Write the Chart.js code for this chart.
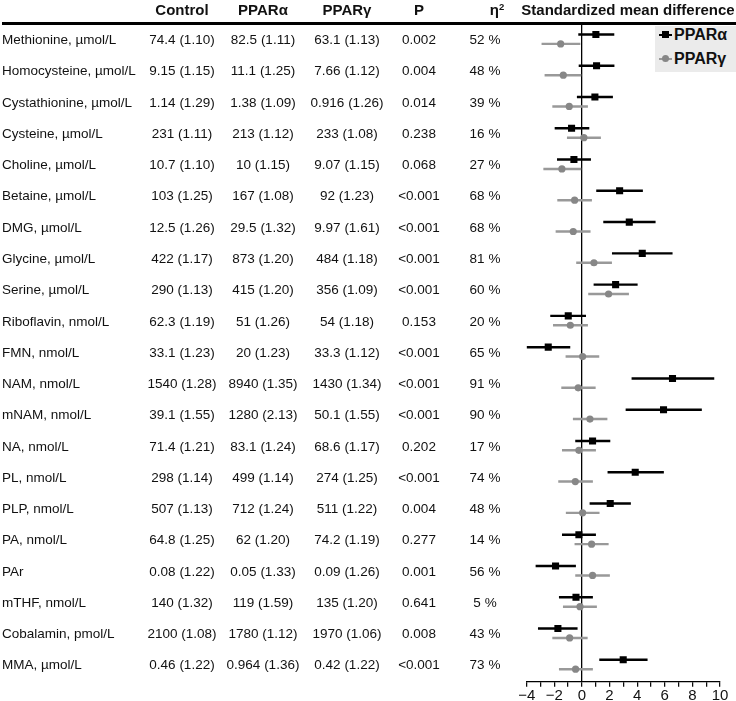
<!DOCTYPE html>
<html>
<head>
<meta charset="utf-8">
<script src="https://cdn.jsdelivr.net/npm/chart.js@4.4.0/dist/chart.umd.min.js"></script>
<style>
  body { margin: 0; background: #fff; font-family: "Liberation Sans", Arial, sans-serif; color: #111; }
  #wrap { position: relative; width: 736px; height: 701px; overflow: hidden; }
  #chart { position: absolute; left: 0; top: 0; }
  .t { position: absolute; white-space: nowrap; font-size: 13.5px; line-height: 16px; transform: translateY(-50%); }
  .c { transform: translate(-50%, -50%); }
  .h { font-weight: bold; font-size: 15px; }
  .h sup { font-size: 9.5px; vertical-align: 5px; line-height: 0; }
  #rule { position: absolute; left: 2px; top: 22px; width: 734px; height: 3px; background: #000; }
  #legend { position: absolute; left: 655px; top: 26px; width: 81px; height: 46px; background: #ebebeb; }
  .lg { position: absolute; left: 4px; width: 13px; height: 2px; }
  .lgm { position: absolute; }
  .lgt { position: absolute; left: 19px; font-weight: bold; font-size: 16px; line-height: 18px; transform: translateY(-50%); }
</style>
</head>
<body>
<div id="wrap">
  <canvas id="chart" width="736" height="701"></canvas>
  <div id="rule"></div>
  <div id="legend">
    <div class="lg" style="top:8px;background:#000"></div>
    <div class="lgm" style="left:7px;top:5px;width:7px;height:7px;background:#000"></div>
    <div class="lgt" style="top:9px">PPARα</div>
    <div class="lg" style="top:32px;background:#999"></div>
    <div class="lgm" style="left:7px;top:29px;width:7px;height:7px;border-radius:50%;background:#878787"></div>
    <div class="lgt" style="top:33px">PPARγ</div>
  </div>
</div>
<script>
// Tabla y valores
const metabolites = ['Methionine, µmol/L', 'Homocysteine, µmol/L', 'Cystathionine, µmol/L', 'Cysteine, µmol/L',
  'Choline, µmol/L', 'Betaine, µmol/L', 'DMG, µmol/L', 'Glycine, µmol/L', 'Serine, µmol/L', 'Riboflavin, nmol/L',
  'FMN, nmol/L', 'NAM, nmol/L', 'mNAM, nmol/L', 'NA, nmol/L', 'PL, nmol/L', 'PLP, nmol/L', 'PA, nmol/L', 'PAr',
  'mTHF, nmol/L', 'Cobalamin, pmol/L', 'MMA, µmol/L'];
const controlTxt = ['74.4 (1.10)', '9.15 (1.15)', '1.14 (1.29)', '231 (1.11)', '10.7 (1.10)', '103 (1.25)', '12.5 (1.26)',
  '422 (1.17)', '290 (1.13)', '62.3 (1.19)', '33.1 (1.23)', '1540 (1.28)', '39.1 (1.55)', '71.4 (1.21)', '298 (1.14)',
  '507 (1.13)', '64.8 (1.25)', '0.08 (1.22)', '140 (1.32)', '2100 (1.08)', '0.46 (1.22)'];
const alphaTxt = ['82.5 (1.11)', '11.1 (1.25)', '1.38 (1.09)', '213 (1.12)', '10 (1.15)', '167 (1.08)', '29.5 (1.32)',
  '873 (1.20)', '415 (1.20)', '51 (1.26)', '20 (1.23)', '8940 (1.35)', '1280 (2.13)', '83.1 (1.24)', '499 (1.14)',
  '712 (1.24)', '62 (1.20)', '0.05 (1.33)', '119 (1.59)', '1780 (1.12)', '0.964 (1.36)'];
const gammaTxt = ['63.1 (1.13)', '7.66 (1.12)', '0.916 (1.26)', '233 (1.08)', '9.07 (1.15)', '92 (1.23)', '9.97 (1.61)',
  '484 (1.18)', '356 (1.09)', '54 (1.18)', '33.3 (1.12)', '1430 (1.34)', '50.1 (1.55)', '68.6 (1.17)', '274 (1.25)',
  '511 (1.22)', '74.2 (1.19)', '0.09 (1.26)', '135 (1.20)', '1970 (1.06)', '0.42 (1.22)'];
const pTxt = ['0.002', '0.004', '0.014', '0.238', '0.068', '<0.001', '<0.001', '<0.001', '<0.001', '0.153', '<0.001',
  '<0.001', '<0.001', '0.202', '<0.001', '0.004', '0.277', '0.001', '0.641', '0.008', '<0.001'];
const etaTxt = ['52 %', '48 %', '39 %', '16 %', '27 %', '68 %', '68 %', '81 %', '60 %', '20 %', '65 %', '91 %', '90 %',
  '17 %', '74 %', '48 %', '14 %', '56 %', '5 %', '43 %', '73 %'];

// Standardized mean difference (estimate, CI low, CI high)
const alphaSmd = [1.01, 1.06, 0.94, -0.75, -0.58, 2.73, 3.43, 4.37, 2.44, -0.99, -2.44, 6.56, 5.91, 0.77, 3.86, 2.05, -0.22, -1.91, -0.43, -1.74, 2.99];
const alphaLo = [-0.24, -0.21, -0.34, -1.95, -1.78, 1.06, 1.57, 2.20, 0.87, -2.27, -4.00, 3.62, 3.19, -0.46, 1.88, 0.58, -1.42, -3.33, -1.64, -3.16, 1.28];
const alphaHi = [2.32, 2.33, 2.22, 0.51, 0.63, 4.39, 5.31, 6.54, 4.01, 0.27, -0.87, 9.56, 8.66, 2.03, 5.91, 3.52, 0.99, -0.46, 0.77, -0.34, 4.73];
const gammaSmd = [-1.54, -1.35, -0.92, 0.14, -1.45, -0.53, -0.63, 0.87, 1.93, -0.84, 0.05, -0.27, 0.58, -0.22, -0.48, 0.05, 0.70, 0.77, -0.14, -0.89, -0.46];
const gammaLo = [-2.90, -2.68, -2.12, -1.06, -2.77, -1.76, -1.88, -0.39, 0.48, -2.07, -1.16, -1.47, -0.63, -1.42, -1.69, -1.14, -0.51, -0.46, -1.35, -2.12, -1.64];
const gammaHi = [-0.14, -0.07, 0.41, 1.35, -0.07, 0.70, 0.60, 2.15, 3.38, 0.41, 1.23, 0.97, 1.82, 0.99, 0.77, 1.25, 1.91, 2.00, 1.06, 0.39, 0.77];
const xTicks = [-4, -2, 0, 2, 4, 6, 8, 10];

const GAMMA_SHIFT = 0.3; // PPARγ row sits a bit below PPARα
const pts = (vals, shift) => vals.map((v, i) => ({ x: v, y: i + shift }));
const cis = (lo, hi, shift) => lo.map((l, i) => ({ x: [l, hi[i]], y: i + shift }));

const chart = new Chart(document.getElementById('chart'), {
  type: 'scatter',
  data: {
    datasets: [
      { label: 'PPARα', data: pts(alphaSmd, 0), pointStyle: 'rect', pointRadius: 5, backgroundColor: '#000', borderWidth: 0, order: 0 },
      { label: 'PPARγ', data: pts(gammaSmd, GAMMA_SHIFT), pointStyle: 'circle', pointRadius: 3.6, backgroundColor: '#878787', borderWidth: 0, order: 0 },
      { type: 'bar', indexAxis: 'y', grouped: false, data: cis(alphaLo, alphaHi, 0), backgroundColor: '#000', barThickness: 1.8, order: 1 },
      { type: 'bar', indexAxis: 'y', grouped: false, data: cis(gammaLo, gammaHi, GAMMA_SHIFT), backgroundColor: '#999', barThickness: 1.8, order: 1 }
    ]
  },
  options: {
    responsive: false,
    animation: false,
    events: [],
    layout: { padding: { left: 526.7, right: 16, top: 22, bottom: 0 } },
    plugins: { legend: { display: false }, tooltip: { enabled: false } },
    scales: {
      x: {
        type: 'linear', min: -4, max: 10, offset: false,
        afterFit: s => { s.height = 19.3; },
        border: { display: true, color: '#000', width: 1.2 },
        grid: {
          color: c => (c.tick && c.tick.value === 0) ? '#000' : 'rgba(0,0,0,0)',
          lineWidth: 1.3, drawTicks: true, tickLength: 5, tickColor: '#000', tickWidth: 1.2
        },
        ticks: {
          stepSize: 1, autoSkip: false, maxRotation: 0, padding: 0, color: '#111',
          font: { family: '"Liberation Sans", Arial, sans-serif', size: 15 },
          callback: v => xTicks.includes(v) ? (v < 0 ? '\u2212' + Math.abs(v) : String(v)) : ''
        }
      },
      y: { type: 'linear', reverse: true, min: -0.4, max: 20.7, offset: false, display: false }
    }
  }
});

// Table text, placed on the rows of the chart's y scale
const wrap = document.getElementById('wrap');
function addText(txt, x, y, cls) {
  const d = document.createElement('div');
  d.className = 't ' + (cls || '');
  d.innerHTML = txt;
  d.style.left = x + 'px';
  d.style.top = y + 'px';
  wrap.appendChild(d);
}
const colX = { control: 182, alpha: 263, gamma: 347, p: 419, eta: 485 };
addText('Control', colX.control, 10, 'c h');
addText('PPARα', colX.alpha, 10, 'c h');
addText('PPARγ', colX.gamma, 10, 'c h');
addText('P', colX.p, 10, 'c h');
addText('η<sup>2</sup>', 497, 10, 'c h');
addText('Standardized mean difference', 628, 10, 'c h');

const yScale = chart.scales.y;
metabolites.forEach((m, i) => {
  const y = yScale.getPixelForValue(i + 0.18);
  addText(m, 2, y);
  addText(controlTxt[i], colX.control, y, 'c');
  addText(alphaTxt[i], colX.alpha, y, 'c');
  addText(gammaTxt[i], colX.gamma, y, 'c');
  addText(pTxt[i].replace('<', '&lt;'), colX.p, y, 'c');
  addText(etaTxt[i], colX.eta, y, 'c');
});
</script>
</body>
</html>
